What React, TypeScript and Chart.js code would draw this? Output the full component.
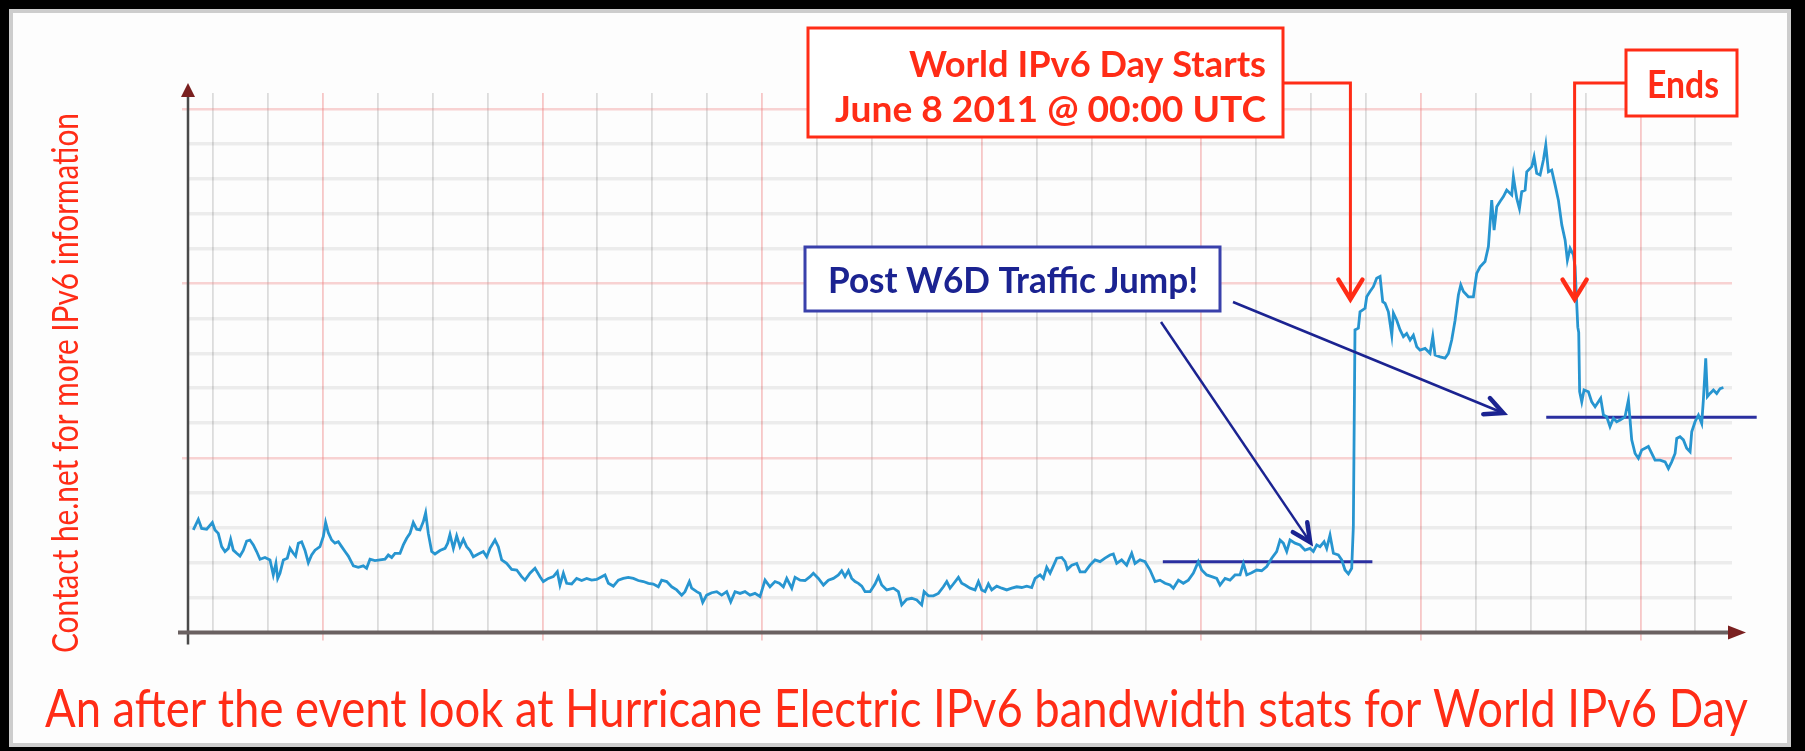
import React, { useEffect, useRef } from 'react';
import { Chart, registerables } from 'chart.js';

Chart.register(...registerables);

// x: hours since 2 June 2011 00:00 PDT (grid every 6 h, red line at each midnight)
// y: IPv6 traffic, in grid units
const hours = [
  9.85, 10.40, 10.76, 11.31, 11.93, 12.22, 12.58, 12.95, 13.31, 13.68, 13.93, 14.22, 14.59, 14.95, 15.31, 15.68,
  16.04, 16.41, 16.77, 17.14, 17.68, 18.23, 18.59, 18.88, 19.07, 19.32, 19.69, 20.12, 20.42, 20.78, 21.03, 21.33,
  21.69, 22.05, 22.42, 22.78, 23.15, 23.69, 24.06, 24.31, 24.60, 24.97, 25.33, 25.70, 26.06, 26.43, 26.79, 27.34,
  27.88, 28.43, 28.79, 29.16, 29.70, 30.25, 30.80, 31.16, 31.53, 31.89, 32.44, 32.80, 33.17, 33.53, 33.89, 34.26,
  34.62, 34.99, 35.24, 35.53, 35.90, 36.26, 36.81, 37.36, 37.65, 37.90, 38.27, 38.63, 38.99, 39.36, 39.72, 40.09,
  40.45, 41.00,
  41.54, 41.91, 42.27, 42.82, 43.18, 43.55, 44.09, 44.64, 45.19, 45.73, 46.10, 46.64, 47.19, 47.74, 48.10, 48.65,
  49.19, 49.63, 49.92, 50.29, 50.65, 51.20, 51.74, 52.29, 52.84, 53.38, 53.93, 54.48, 54.84, 55.21, 55.75, 56.30,
  56.84, 57.39, 57.94, 58.48, 59.03, 59.58, 60.12, 60.67, 61.03, 61.58, 62.13, 62.67, 63.22, 63.58, 64.06, 64.31,
  64.86, 65.22, 65.52, 65.95, 66.50, 67.05, 67.59, 68.14, 68.58, 69.05, 69.60, 70.14, 70.69, 71.23, 71.78, 72.33,
  72.87, 73.42, 73.89,
  74.33, 74.70, 75.25, 75.61, 76.16, 76.70, 77.25, 77.61, 78.16, 78.71, 79.25, 79.80, 80.35, 80.71, 81.07, 81.44,
  81.80, 82.17, 82.53, 82.90, 83.26, 83.81, 84.35, 84.72, 85.08, 85.63, 86.36, 86.90, 87.27, 87.81, 88.36, 88.91,
  89.45, 89.71, 90.18, 90.73, 91.27, 91.82, 92.19, 92.55, 92.91, 93.46, 93.82, 94.19, 94.74, 95.28, 95.65, 96.01,
  96.37, 96.74, 97.10, 97.65, 98.20, 98.74, 99.29, 99.83, 100.38, 100.93, 101.47, 101.84, 102.39, 102.75, 103.11,
  103.48, 103.84, 104.21, 104.75, 105.12, 105.37, 105.85, 106.39, 106.76,
  107.30, 107.84, 108.39, 108.94, 109.48, 110.03, 110.39, 110.76, 111.30, 111.85, 112.40, 112.76, 113.31, 113.85,
  114.40, 114.95, 115.49, 116.04, 116.59, 116.95, 117.50, 118.04, 118.59, 119.14, 119.68, 120.05, 120.59, 121.14,
  121.69, 122.05, 122.60, 123.14, 123.69, 124.24, 124.60, 124.97, 125.51, 126.06, 126.60, 127.15, 127.70, 128.24,
  128.61, 128.97, 129.34, 129.70, 130.25, 130.79, 131.34, 131.89, 132.25, 132.62, 132.98, 133.42, 133.71, 134.07,
  134.44, 134.98, 135.35, 135.71, 136.08, 136.44, 136.62, 136.80, 137.17, 137.35, 137.90, 138.08, 138.44, 138.81,
  139.17, 139.54,
  139.83, 140.09, 140.45, 140.82, 141.00, 141.36, 141.73, 142.09, 142.45, 142.82, 143.18, 143.55, 143.91, 144.46,
  145.00, 145.30, 145.55, 146.10, 146.64, 147.01, 147.37, 147.74, 148.10, 148.36, 148.65, 149.19, 149.74, 150.10,
  150.47, 151.01, 151.38, 151.74, 152.00, 152.29, 152.65, 153.02, 153.38, 153.93, 154.11, 154.48, 154.77, 155.02,
  155.39, 155.57, 156.12, 156.37, 156.66, 157.03, 157.39, 157.65, 157.94, 158.30, 158.67, 159.03, 159.40, 159.76,
  160.01, 160.31, 160.67, 160.85, 161.00, 161.15, 161.25, 161.35,
  161.58, 161.83, 162.31, 162.67, 163.04, 163.40, 163.65, 163.95, 164.31, 164.67, 165.04, 165.40, 165.77, 166.31,
  166.68, 166.86, 167.04, 167.41, 167.77, 168.14, 168.50, 168.86, 169.23, 169.59, 170.14, 170.69, 171.05, 171.41,
  171.78, 171.96, 172.32, 172.69, 173.05, 173.42, 173.60, 173.96, 174.33, 174.69, 174.87, 175.13, 175.31, 175.60,
  175.97, 176.33, 176.70, 177.06,
];

const traffic = [
  2.94, 3.24, 2.98, 2.96, 3.15, 2.94, 2.84, 2.46, 2.32, 2.41, 2.67, 2.36, 2.27, 2.19, 2.35, 2.62,
  2.65, 2.51, 2.32, 2.10, 2.15, 2.08, 1.65, 1.98, 1.55, 1.70, 2.08, 2.13, 2.41, 2.27, 2.19, 2.56,
  2.60, 2.36, 2.00, 2.22, 2.36, 2.46, 2.75, 3.15, 2.86, 2.65, 2.56, 2.60, 2.46, 2.32, 2.19, 1.91,
  1.87, 1.91, 1.84, 2.10, 2.06, 2.08, 2.10, 2.22, 2.15, 2.27, 2.27, 2.51, 2.70, 2.84, 3.15, 2.96,
  2.94, 3.18, 3.43, 2.84, 2.32, 2.25, 2.35, 2.41, 2.56, 2.81, 2.41, 2.77, 2.46, 2.67, 2.46, 2.35,
  2.17, 2.25,
  2.32, 2.17, 2.41, 2.65, 2.46, 2.08, 1.98, 1.81, 1.79, 1.60, 1.50, 1.70, 1.84, 1.60, 1.46, 1.55,
  1.60, 1.74, 1.36, 1.70, 1.41, 1.39, 1.55, 1.49, 1.55, 1.50, 1.52, 1.60, 1.65, 1.41, 1.33, 1.50,
  1.55, 1.58, 1.55, 1.49, 1.46, 1.41, 1.39, 1.31, 1.50, 1.46, 1.31, 1.22, 1.07, 1.17, 1.46, 1.27,
  1.17, 1.12, 0.86, 1.07, 1.14, 1.17, 1.07, 1.17, 0.88, 1.17, 1.12, 1.17, 1.07, 1.12, 1.03, 1.50,
  1.31, 1.46, 1.41,
  1.31, 1.55, 1.27, 1.58, 1.50, 1.49, 1.60, 1.70, 1.55, 1.36, 1.50, 1.55, 1.65, 1.77, 1.60, 1.77,
  1.55, 1.46, 1.41, 1.33, 1.17, 1.17, 1.39, 1.60, 1.36, 1.22, 1.27, 1.17, 0.79, 0.95, 0.98, 0.93,
  0.79, 1.17, 1.05, 1.05, 1.12, 1.31, 1.46, 1.27, 1.39, 1.58, 1.41, 1.36, 1.27, 1.22, 1.46, 1.22,
  1.17, 1.39, 1.22, 1.33, 1.27, 1.22, 1.27, 1.31, 1.29, 1.33, 1.29, 1.55, 1.65, 1.55, 1.87,
  1.70, 1.91, 2.13, 2.15, 2.03, 1.81, 1.93, 1.98, 1.74,
  1.74, 1.93, 2.08, 2.03, 2.13, 2.22, 2.25, 1.98, 2.08, 1.93, 2.27, 1.98, 2.08, 2.03,
  1.79, 1.46, 1.50, 1.41, 1.36, 1.27, 1.50, 1.41, 1.50, 1.70, 2.03, 1.79, 1.65, 1.60,
  1.55, 1.36, 1.55, 1.50, 1.65, 1.65, 1.98, 1.65, 1.71, 1.79, 1.77, 1.89, 2.13, 2.32,
  2.65, 2.56, 2.32, 2.65, 2.56, 2.51, 2.36, 2.41, 2.32, 2.51, 2.46, 2.60, 2.41, 2.79,
  2.27, 2.22, 2.08, 1.79, 1.68, 1.84, 3.03, 8.67, 8.72, 9.19, 9.29, 9.62, 9.77, 9.91,
  10.15, 10.20,
  9.48, 9.43, 9.19, 8.52, 9.15, 8.95, 8.67, 8.48, 8.57, 8.38, 8.52, 8.19, 8.09, 8.14,
  8.00, 8.48, 7.95, 7.90, 7.86, 8.00, 8.38, 8.95, 9.67, 9.96, 9.77, 9.62, 9.62, 10.29,
  10.48, 10.63, 11.06, 12.39, 11.53, 12.20, 12.35, 12.49, 12.68, 12.54, 13.06, 12.44, 12.15, 12.63,
  12.68, 13.20, 13.35, 13.63, 13.16, 13.11, 13.54, 13.97, 13.20, 13.25, 12.82, 12.39, 11.68, 11.25,
  10.67, 11.01, 10.82, 10.48, 9.60, 8.75, 8.60, 6.90,
  6.61, 6.95, 6.90, 6.61, 6.47, 6.61, 6.71, 6.23, 6.18, 5.90, 6.14, 6.04, 6.09, 6.18,
  6.66, 6.09, 5.52, 5.13, 4.99, 5.23, 5.28, 5.33, 5.13, 4.94, 4.94, 4.89, 4.70, 4.89,
  5.13, 5.56, 5.61, 5.52, 5.28, 5.18, 5.75, 6.04, 6.23, 5.99, 6.66, 7.86, 6.76, 6.85,
  6.95, 6.85, 6.99, 7.02,
];

// gridline positions (hours) and value gridlines
const hourTicks = [
  12, 18, 24, 30, 36, 42, 48, 54, 60, 66, 72, 78, 84, 90, 96, 102, 108, 114, 120, 126, 132, 138, 144, 150, 156,
  162, 168, 174,
];
const valueTicks = [0, 1, 2, 3, 4, 5, 6, 7, 8, 9, 10, 11, 12, 13, 14, 15];

// "before" and "after" traffic levels drawn as flat reference lines
const levelBeforeHours = [115.8, 138.7];
const levelBeforeValue = 2.03;
const levelAfterHours = [157.7, 180.7];
const levelAfterValue = 6.17;

// annotation targets (data units)
const startHour = 136.3; // June 8 00:00 UTC
const endHour = 160.8; // June 9 00:00 UTC
const markerValue = 9.55;
const jumpTargetsHours = [131.9, 153.0];
const jumpTargetsValues = [2.59, 6.29];

const captionBottom = 'An after the event look at Hurricane Electric IPv6 bandwidth stats for World IPv6 Day';
const captionSide = 'Contact he.net for more IPv6 information';
const startLines = ['World IPv6 Day Starts', 'June 8 2011 @ 00:00 UTC'];
const endLabel = 'Ends';
const jumpLabel = 'Post W6D Traffic Jump!';

const W = 1805;
const H = 751;
const RED = '#ff2c16';
const NAVY = '#1b2391';
const BOX_BLUE = '#3940ab';
const LINE_BLUE = '#2795d0';
const FONT = 'Lato, "Open Sans", sans-serif';

function fitText(ctx: CanvasRenderingContext2D, text: string, x: number, y: number, width: number, font: string, color: string, rot = 0) {
  ctx.save();
  ctx.font = font;
  ctx.fillStyle = color;
  ctx.textBaseline = 'alphabetic';
  ctx.textAlign = 'left';
  const w = ctx.measureText(text).width;
  ctx.translate(x, y);
  if (rot) ctx.rotate(rot);
  ctx.scale(width / w, 1);
  ctx.fillText(text, 0, 0);
  ctx.restore();
}

function chevron(ctx: CanvasRenderingContext2D, tx: number, ty: number, angle: number, size: number, half: number, color: string, lw: number) {
  ctx.save();
  ctx.strokeStyle = color;
  ctx.lineWidth = lw;
  ctx.lineCap = 'round';
  ctx.lineJoin = 'miter';
  const a1 = angle + Math.PI - half;
  const a2 = angle + Math.PI + half;
  ctx.beginPath();
  ctx.moveTo(tx + size * Math.cos(a1), ty + size * Math.sin(a1));
  ctx.lineTo(tx, ty);
  ctx.lineTo(tx + size * Math.cos(a2), ty + size * Math.sin(a2));
  ctx.stroke();
  ctx.restore();
}

const framePlugin = {
  id: 'frame',
  beforeDraw(chart: any) {
    const ctx = chart.ctx as CanvasRenderingContext2D;
    ctx.save();
    ctx.fillStyle = '#000';
    ctx.fillRect(0, 0, W, H);
    ctx.fillStyle = '#fdfdfd';
    ctx.fillRect(9, 9, 1782, 738);
    ctx.strokeStyle = '#cdcdcd';
    ctx.lineWidth = 4;
    ctx.strokeRect(11, 11, 1778, 734);
    ctx.restore();
    // captions
    fitText(ctx, captionBottom, 45, 727, 1703, `52px ${FONT}`, RED);
    fitText(ctx, captionSide, 78, 653, 540, `36px ${FONT}`, RED, -Math.PI / 2);
  },
};

const axesPlugin = {
  id: 'axesArrows',
  beforeDatasetsDraw(chart: any) {
    const ctx = chart.ctx as CanvasRenderingContext2D;
    const a = chart.chartArea;
    ctx.save();
    // y axis
    ctx.strokeStyle = '#4a4a4a';
    ctx.lineWidth = 2.5;
    ctx.beginPath();
    ctx.moveTo(a.left, a.bottom + 12);
    ctx.lineTo(a.left, a.top - 2);
    ctx.stroke();
    ctx.fillStyle = '#7a2020';
    ctx.beginPath();
    ctx.moveTo(a.left, a.top - 10);
    ctx.lineTo(a.left - 7, a.top + 4);
    ctx.lineTo(a.left + 7, a.top + 4);
    ctx.closePath();
    ctx.fill();
    // x axis
    ctx.strokeStyle = '#6a6161';
    ctx.lineWidth = 4;
    ctx.beginPath();
    ctx.moveTo(a.left - 10, a.bottom);
    ctx.lineTo(a.right + 2, a.bottom);
    ctx.stroke();
    ctx.fillStyle = '#7a2020';
    ctx.beginPath();
    ctx.moveTo(a.right + 14, a.bottom);
    ctx.lineTo(a.right - 4, a.bottom - 7);
    ctx.lineTo(a.right - 4, a.bottom + 7);
    ctx.closePath();
    ctx.fill();
    ctx.restore();
  },
};

const annotationPlugin = {
  id: 'notes',
  afterDatasetsDraw(chart: any) {
    const ctx = chart.ctx as CanvasRenderingContext2D;
    const xs = chart.scales.x;
    const ys = chart.scales.y;
    ctx.save();

    // blue arrows from the "Post W6D" box
    const starts = [
      [1161, 322],
      [1233, 302],
    ];
    ctx.strokeStyle = NAVY;
    ctx.lineWidth = 2.5;
    starts.forEach((s, i) => {
      const tx = xs.getPixelForValue(jumpTargetsHours[i]);
      const ty = ys.getPixelForValue(jumpTargetsValues[i]);
      ctx.beginPath();
      ctx.moveTo(s[0], s[1]);
      ctx.lineTo(tx, ty);
      ctx.stroke();
      chevron(ctx, tx, ty, Math.atan2(ty - s[1], tx - s[0]), 20, 0.45, NAVY, 4.5);
    });

    // red connectors
    const sx = xs.getPixelForValue(startHour);
    const ex = xs.getPixelForValue(endHour);
    const my = ys.getPixelForValue(markerValue);
    ctx.strokeStyle = RED;
    ctx.lineWidth = 3;
    ctx.beginPath();
    ctx.moveTo(1283, 83);
    ctx.lineTo(sx, 83);
    ctx.lineTo(sx, my - 2);
    ctx.moveTo(1626, 83);
    ctx.lineTo(ex, 83);
    ctx.lineTo(ex, my - 2);
    ctx.stroke();
    chevron(ctx, sx, my, Math.PI / 2, 23, 0.55, RED, 4.5);
    chevron(ctx, ex, my, Math.PI / 2, 23, 0.55, RED, 4.5);

    // boxes
    const box = (x: number, y: number, w: number, h: number, c: string) => {
      ctx.fillStyle = '#fff';
      ctx.fillRect(x, y, w, h);
      ctx.strokeStyle = c;
      ctx.lineWidth = 3;
      ctx.strokeRect(x, y, w, h);
    };
    box(808, 28, 475, 109, RED);
    fitText(ctx, startLines[0], 909, 77, 357, `bold 37px ${FONT}`, RED);
    fitText(ctx, startLines[1], 835, 122, 431, `bold 37px ${FONT}`, RED);
    box(1626, 50, 111, 66, RED);
    fitText(ctx, endLabel, 1647, 98, 72, `bold 38px ${FONT}`, RED);
    box(805, 247, 415, 64, BOX_BLUE);
    fitText(ctx, jumpLabel, 828, 293, 370, `bold 36px ${FONT}`, NAVY);
    ctx.restore();
  },
};

export default function App() {
  const ref = useRef<HTMLCanvasElement | null>(null);
  useEffect(() => {
    if (!ref.current) return;
    const chart = new Chart(ref.current, {
      type: 'line',
      data: {
        datasets: [
          {
            label: 'IPv6 traffic',
            data: hours.map((h, i) => ({ x: h, y: traffic[i] })),
            borderColor: LINE_BLUE,
            borderWidth: 2.8,
            pointRadius: 0,
            tension: 0,
          },
          {
            label: 'Before level',
            data: levelBeforeHours.map((h) => ({ x: h, y: levelBeforeValue })),
            borderColor: '#2a2fa0',
            borderWidth: 3,
            pointRadius: 0,
            clip: false,
          },
          {
            label: 'After level',
            data: levelAfterHours.map((h) => ({ x: h, y: levelAfterValue })),
            borderColor: '#2a2fa0',
            borderWidth: 3,
            pointRadius: 0,
            clip: false,
          },
        ],
      },
      options: {
        responsive: false,
        animation: false,
        events: [],
        layout: { padding: { left: 182, right: 73, top: 93, bottom: 110.5 } },
        plugins: { legend: { display: false }, tooltip: { enabled: false }, title: { display: false } },
        scales: {
          x: {
            type: 'linear',
            min: 9.27,
            max: 178.0,
            afterBuildTicks: (axis: any) => {
              axis.ticks = hourTicks.map((v) => ({ value: v }));
            },
            ticks: { display: false },
            border: { display: false },
            grid: {
              drawTicks: true,
              tickLength: 8,
              color: (c: any) => (c.tick && c.tick.value % 24 === 0 ? 'rgba(236,110,110,0.38)' : 'rgba(0,0,0,0.13)'),
              tickColor: (c: any) => (c.tick && c.tick.value % 24 === 0 ? 'rgba(236,110,110,0.38)' : 'rgba(0,0,0,0)'),
              lineWidth: 1.8,
            },
          },
          y: {
            type: 'linear',
            min: 0,
            max: 15.46,
            afterBuildTicks: (axis: any) => {
              axis.ticks = valueTicks.map((v) => ({ value: v }));
            },
            ticks: { display: false },
            border: { display: false },
            grid: {
              drawTicks: true,
              tickLength: 6,
              color: (c: any) => (c.tick && c.tick.value % 5 === 0 ? 'rgba(240,120,120,0.32)' : 'rgba(0,0,0,0.065)'),
              tickColor: (c: any) => (c.tick && c.tick.value % 5 === 0 ? 'rgba(240,120,120,0.32)' : 'rgba(0,0,0,0)'),
              lineWidth: (c: any) => (c.tick && c.tick.value % 5 === 0 ? 2.5 : 3.5),
            },
          },
        },
      },
      plugins: [framePlugin, axesPlugin, annotationPlugin],
    } as any);
    return () => chart.destroy();
  }, []);
  return (
    <div style={{ position: 'fixed', left: 0, top: 0, width: W, height: H, background: '#000' }}>
      <canvas ref={ref} width={W} height={H} style={{ display: 'block', width: W, height: H }} />
    </div>
  );
}
